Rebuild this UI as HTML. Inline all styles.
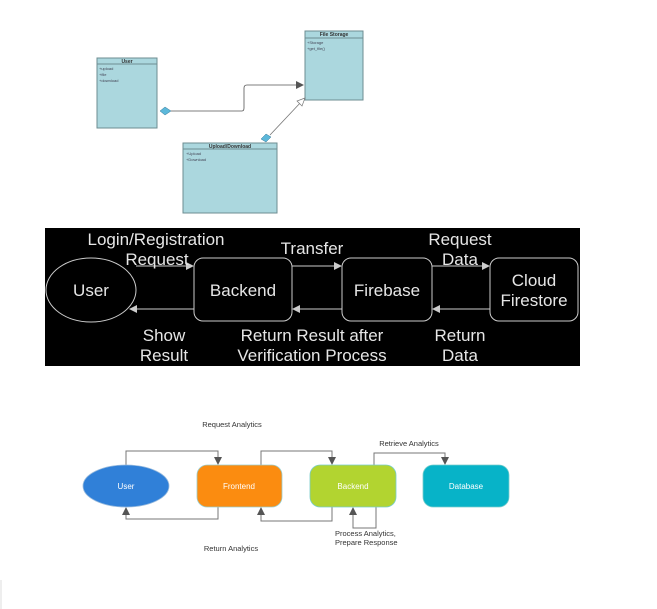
<!DOCTYPE html>
<html><head><meta charset="utf-8"><style>
body{margin:0;background:#fff;width:657px;height:609px;overflow:hidden}
svg{display:block;font-family:"Liberation Sans",sans-serif}
</style></head><body>
<svg width="657" height="609" viewBox="0 0 657 609">
<defs>
<marker id="ah" markerWidth="8" markerHeight="8" refX="7" refY="4" orient="auto" markerUnits="userSpaceOnUse"><path d="M0,0 L8,4 L0,8z" fill="#555"/></marker>
<marker id="aw" markerWidth="8" markerHeight="8" refX="7" refY="4" orient="auto" markerUnits="userSpaceOnUse"><path d="M0,0 L8,4 L0,8z" fill="#ccc"/></marker>
</defs>
<line x1="1" y1="580" x2="1" y2="609" stroke="#ddd" stroke-width="1"/>

<!-- UML -->
<g>
<rect x="97" y="58" width="60" height="70" fill="#abd7de" stroke="#6e8c91"/>
<line x1="97" y1="64" x2="157" y2="64" stroke="#6e8c91"/>
<text x="127" y="63" font-size="5" text-anchor="middle" font-weight="bold" fill="#333">User</text>
<text x="99" y="70" font-size="4" fill="#445">+upload</text>
<text x="99" y="76" font-size="4" fill="#445">+file</text>
<text x="99" y="82" font-size="4" fill="#445">+download</text>
</g>
<g>
<rect x="305" y="31" width="58" height="69" fill="#abd7de" stroke="#6e8c91"/>
<line x1="305" y1="38" x2="363" y2="38" stroke="#6e8c91"/>
<text x="334" y="36" font-size="5" text-anchor="middle" font-weight="bold" fill="#333">File Storage</text>
<text x="307" y="44" font-size="4" fill="#445">+Storage</text>
<text x="307" y="50" font-size="4" fill="#445">+get_file()</text>
</g>
<g>
<rect x="183" y="143" width="94" height="70" fill="#abd7de" stroke="#6e8c91"/>
<line x1="183" y1="149" x2="277" y2="149" stroke="#6e8c91"/>
<text x="230" y="148" font-size="5" text-anchor="middle" font-weight="bold" fill="#333">Upload/Download</text>
<text x="186" y="155" font-size="4" fill="#445">+Upload</text>
<text x="186" y="161" font-size="4" fill="#445">+Download</text>
</g>
<path d="M171,111 L242,111 Q244,111 244,108 L244,88 Q244,85 247,85 L303,85" fill="none" stroke="#555" stroke-width="0.8" marker-end="url(#ah)"/>
<path d="M160,111 L165,107 L171,111 L165,115z" fill="#5cb8da" stroke="#3a7a99" stroke-width="0.5"/>
<line x1="270" y1="135" x2="302" y2="101" stroke="#777" stroke-width="0.8"/>
<path d="M305,98 L297,101 L302,106z" fill="#fff" stroke="#777" stroke-width="0.7"/>
<path d="M261,139 L266,134 L271,137 L266,142z" fill="#5cb8da" stroke="#3a7a99" stroke-width="0.5"/>

<!-- Black flow -->
<rect x="45" y="228" width="535" height="138" fill="#000"/>
<g fill="#000" stroke="#ccc" stroke-width="1">
<ellipse cx="91" cy="290" rx="45" ry="32"/>
<rect x="194" y="258" width="98" height="63" rx="9"/>
<rect x="342" y="258" width="90" height="63" rx="9"/>
<rect x="490" y="258" width="88" height="63" rx="9"/>
</g>
<g stroke="#ccc" stroke-width="1">
<line x1="136" y1="266" x2="193" y2="266" marker-end="url(#aw)"/>
<line x1="292" y1="266" x2="341" y2="266" marker-end="url(#aw)"/>
<line x1="432" y1="266" x2="489" y2="266" marker-end="url(#aw)"/>
<line x1="194" y1="309" x2="130" y2="309" marker-end="url(#aw)"/>
<line x1="342" y1="309" x2="293" y2="309" marker-end="url(#aw)"/>
<line x1="490" y1="309" x2="433" y2="309" marker-end="url(#aw)"/>
</g>
<g fill="#e6e6e6" font-size="17" text-anchor="middle">
<text x="91" y="296">User</text>
<text x="243" y="296">Backend</text>
<text x="387" y="296">Firebase</text>
<text x="534" y="286">Cloud</text>
<text x="534" y="306">Firestore</text>
<text x="156" y="245">Login/Registration</text>
<text x="157" y="265">Request</text>
<text x="312" y="254">Transfer</text>
<text x="460" y="245">Request</text>
<text x="460" y="265">Data</text>
<text x="164" y="341">Show</text>
<text x="164" y="361">Result</text>
<text x="312" y="341">Return Result after</text>
<text x="312" y="361">Verification Process</text>
<text x="460" y="341">Return</text>
<text x="460" y="361">Data</text>
</g>

<!-- Analytics flow -->
<g fill="none" stroke="#777" stroke-width="1">
<path d="M126,465 L126,451 L218,451 L218,464" marker-end="url(#ah)"/>
<path d="M218,507 L218,519 L126,519 L126,508" marker-end="url(#ah)"/>
<path d="M261,465 L261,451 L332,451 L332,464" marker-end="url(#ah)"/>
<path d="M332,507 L332,521 L261,521 L261,508" marker-end="url(#ah)"/>
<path d="M374,465 L374,453 L445,453 L445,464" marker-end="url(#ah)"/>
<path d="M376,507 L376,528 L353,528 L353,508" marker-end="url(#ah)"/>
</g>
<ellipse cx="126" cy="486" rx="43" ry="21" fill="#3080d8" stroke="#9bd" stroke-width="0.8"/>
<rect x="197" y="465" width="85" height="42" rx="10" fill="#fb8c10" stroke="#9cc" stroke-width="0.8"/>
<rect x="310" y="465" width="86" height="42" rx="10" fill="#b2d430" stroke="#7cc" stroke-width="0.8"/>
<rect x="423" y="465" width="86" height="42" rx="10" fill="#07b3c8" stroke="#7cc" stroke-width="0.8"/>
<g fill="#fff" font-size="8" text-anchor="middle">
<text x="126" y="489">User</text>
<text x="239" y="489">Frontend</text>
<text x="353" y="489">Backend</text>
<text x="466" y="489">Database</text>
</g>
<g fill="#333" font-size="7.5">
<text x="232" y="427" text-anchor="middle">Request Analytics</text>
<text x="409" y="446" text-anchor="middle">Retrieve Analytics</text>
<text x="231" y="551" text-anchor="middle">Return Analytics</text>
<text x="335" y="536">Process Analytics,</text>
<text x="335" y="545">Prepare Response</text>
</g>
</svg>
</body></html>
